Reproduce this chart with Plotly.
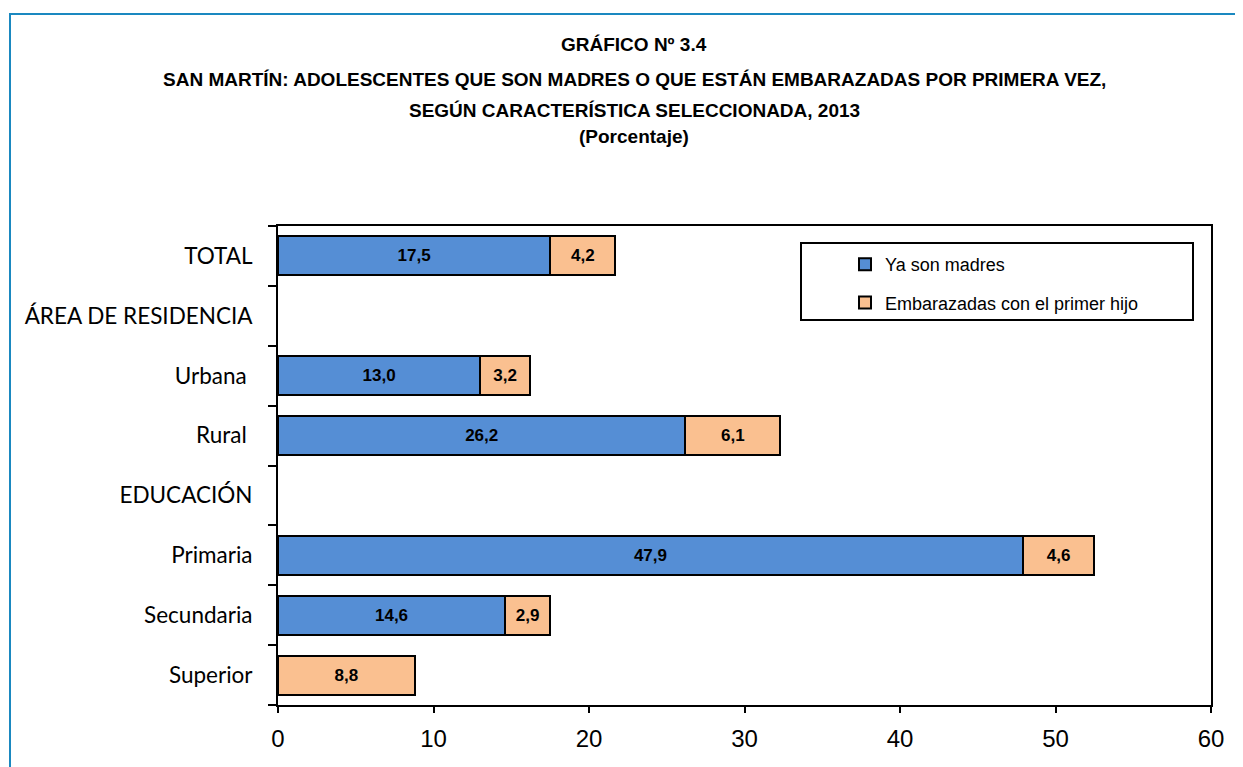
import plotly.graph_objects as go

# Categories, top to bottom (header rows have no values)
categorias = [
    "TOTAL",
    "ÁREA DE RESIDENCIA",
    "Urbana",
    "Rural",
    "EDUCACIÓN",
    "Primaria",
    "Secundaria",
    "Superior",
]
etiquetas = [
    "TOTAL",
    "ÁREA DE RESIDENCIA",
    "Urbana\u00a0",
    "Rural\u00a0",
    "EDUCACIÓN",
    "Primaria",
    "Secundaria",
    "Superior",
]
ya_son_madres = [17.5, None, 13.0, 26.2, None, 47.9, 14.6, None]
embarazadas = [4.2, None, 3.2, 6.1, None, 4.6, 2.9, 8.8]
x_ticks = [0, 10, 20, 30, 40, 50, 60]

TITULOS = [
    ("GRÁFICO Nº 3.4", 1.378),
    ("SAN MARTÍN: ADOLESCENTES QUE SON MADRES O QUE ESTÁN EMBARAZADAS POR PRIMERA VEZ,", 1.305),
    ("SEGÚN CARACTERÍSTICA SELECCIONADA, 2013", 1.242),
    ("(Porcentaje)", 1.186),
]

NARROW = "Liberation Sans Narrow, Arial Narrow, Liberation Sans, Arial, sans-serif"

# plot area on screen: x 278..1211, y 226..705 (page body adds 8px offset)
PX0, PX1, PY0, PY1 = 278, 1211, 226, 705


def px(v):
    return (v - PX0) / (PX1 - PX0)


def py(v):
    return (PY1 - v) / (PY1 - PY0)


fig = go.Figure()
fig.add_trace(
    go.Bar(
        y=categorias,
        x=ya_son_madres,
        orientation="h",
        name="Ya son madres",
        marker={"color": "#558ED5", "line": {"color": "black", "width": 2}},
        texttemplate="<b>%{x:.1f}</b>",
        textposition="inside",
        insidetextanchor="middle",
        textangle=0,
        textfont={"family": NARROW, "size": 17, "color": "black"},
        legendgroup="a",
    )
)
fig.add_trace(
    go.Bar(
        y=categorias,
        x=embarazadas,
        orientation="h",
        name="Embarazadas con el primer hijo",
        marker={"color": "#FAC090", "line": {"color": "black", "width": 2}},
        texttemplate="<b>%{x:.1f}</b>",
        textposition="inside",
        insidetextanchor="middle",
        textangle=0,
        textfont={"family": NARROW, "size": 17, "color": "black"},
        legendgroup="b",
    )
)

for texto, ypos in TITULOS:
    fig.add_annotation(
        text=f"<b>{texto}</b>",
        xref="paper",
        yref="paper",
        x=px(634),
        y=ypos,
        xanchor="center",
        yanchor="middle",
        showarrow=False,
        font={"family": NARROW, "size": 19, "color": "black"},
    )

# outer frame of the chart and legend box
fig.add_shape(
    type="rect", xref="paper", yref="paper",
    x0=px(10), x1=px(1237), y0=py(790), y1=py(14),
    line={"color": "#1A88C0", "width": 2},
)
fig.add_shape(
    type="rect", xref="paper", yref="paper",
    x0=px(801), x1=px(1193), y0=py(320), y1=py(243),
    line={"color": "black", "width": 2},
)

fig.update_layout(
    width=1243,
    height=767,
    barmode="stack",
    bargap=0.35,
    separators=",.",
    plot_bgcolor="white",
    paper_bgcolor="white",
    margin={"l": PX0 - 8, "r": 1243 - PX1 + 8, "t": PY0 - 8, "b": 767 - PY1 + 8},
    legend={
        "x": px(845),
        "y": py(246),
        "xanchor": "left",
        "yanchor": "top",
        "bgcolor": "rgba(0,0,0,0)",
        "font": {"family": NARROW, "size": 18, "color": "black"},
        "traceorder": "grouped",
        "tracegroupgap": 12,
        "itemwidth": 30,
    },
    xaxis={
        "range": [0, 60],
        "tickvals": x_ticks,
        "ticks": "outside",
        "ticklen": 6,
        "tickwidth": 2,
        "tickcolor": "black",
        "showline": True,
        "linecolor": "black",
        "linewidth": 2,
        "mirror": True,
        "showgrid": False,
        "zeroline": False,
        "ticklabelstandoff": 5,
        "tickfont": {"family": NARROW, "size": 24, "color": "black"},
    },
    yaxis={
        "categoryorder": "array",
        "categoryarray": categorias,
        "tickvals": categorias,
        "ticktext": etiquetas,
        "autorange": "reversed",
        "ticks": "outside",
        "tickson": "boundaries",
        "ticklen": 8,
        "tickwidth": 2,
        "tickcolor": "black",
        "showline": True,
        "linecolor": "black",
        "linewidth": 2,
        "mirror": True,
        "showgrid": False,
        "ticklabelstandoff": 19,
        "tickfont": {"family": "Lato, Carlito, Calibri, sans-serif", "size": 22.5, "color": "black"},
    },
)

fig.write_html("out.html")
